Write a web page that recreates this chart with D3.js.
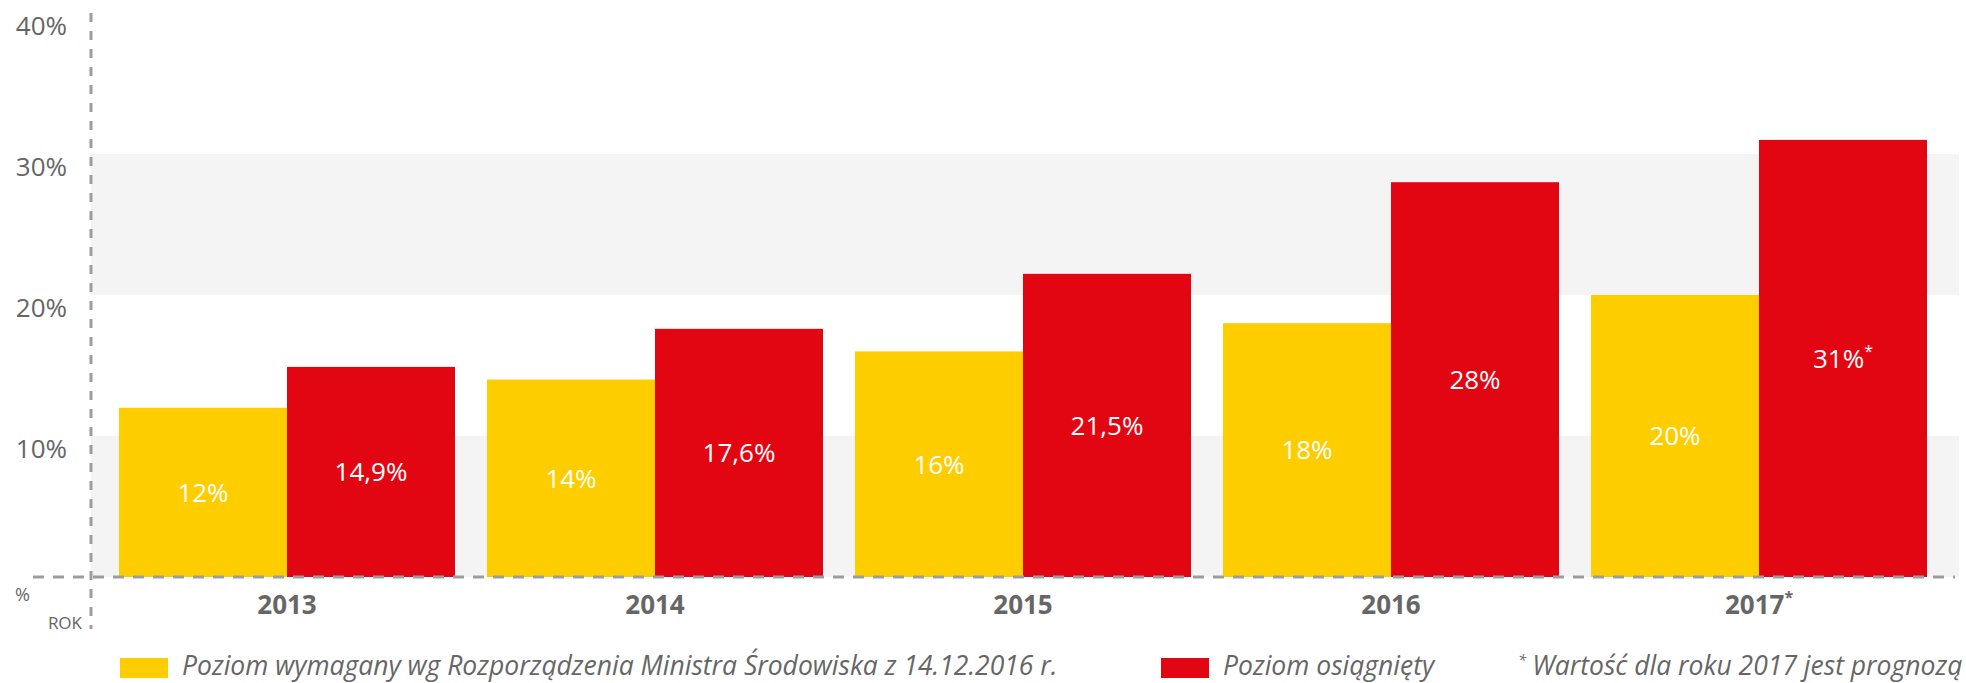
<!DOCTYPE html>
<html>
<head>
<meta charset="utf-8">
<script src="https://cdn.jsdelivr.net/npm/d3@7"></script>
<style>
  body { margin: 0; background: #fff; }
  svg { display: block; font-family: "Open Sans", sans-serif; }
  .tick text { fill: #666; }
</style>
</head>
<body>
<svg id="chart" width="1966" height="683"></svg>
<script>
// data
const years = ["2013", "2014", "2015", "2016", "2017"];
const required = [12, 14, 16, 18, 20];
const achieved = [14.9, 17.6, 21.5, 28, 31];
const requiredLabels = ["12%", "14%", "16%", "18%", "20%"];
const achievedLabels = ["14,9%", "17,6%", "21,5%", "28%", "31%"];
const forecastYears = ["2017"];
const yTicks = [10, 20, 30, 40];
const greyBands = [[0, 10], [20, 30]];
const legendItems = ["Poziom wymagany wg Rozporządzenia Ministra Środowiska z 14.12.2016 r.", "Poziom osiągnięty"];
const footnote = "Wartość dla roku 2017 jest prognozą";

const YELLOW = "#fdcd00", RED = "#e20613", GREY = "#666";

const svg = d3.select("#chart");

const x = d3.scaleBand()
    .domain(years)
    .range([103, 1943])
    .paddingInner(32 / 368)
    .paddingOuter(16 / 368);

const x1 = d3.scaleBand()
    .domain(["req", "ach"])
    .range([0, x.bandwidth()]);

const y = d3.scaleLinear()
    .domain([0, 40])
    .range([577, 13]);

// background bands
svg.append("g").selectAll("rect")
    .data(greyBands)
    .enter()
    .append("rect")
    .attr("x", 91)
    .attr("width", 1959 - 91)
    .attr("y", d => y(d[1]))
    .attr("height", d => y(d[0]) - y(d[1]))
    .attr("fill", "#f4f4f4");

// bars
const groups = svg.append("g").selectAll("g")
    .data(years)
    .enter()
    .append("g")
    .attr("transform", d => "translate(" + x(d) + ",0)");

groups.append("rect")
    .attr("x", x1("req"))
    .attr("width", x1.bandwidth())
    .attr("y", (d, i) => y(required[i]))
    .attr("height", (d, i) => y(0) - y(required[i]))
    .attr("fill", YELLOW);

groups.append("rect")
    .attr("x", x1("ach"))
    .attr("width", x1.bandwidth())
    .attr("y", (d, i) => y(achieved[i]))
    .attr("height", (d, i) => y(0) - y(achieved[i]))
    .attr("fill", RED);

// value labels, centred in the bar
groups.append("text")
    .attr("x", x1("req") + x1.bandwidth() / 2)
    .attr("y", (d, i) => (y(required[i]) + y(0)) / 2)
    .attr("dy", "0.36em")
    .attr("text-anchor", "middle")
    .attr("fill", "#fff")
    .attr("font-size", 26)
    .text((d, i) => requiredLabels[i]);

const achText = groups.append("text")
    .attr("x", x1("ach") + x1.bandwidth() / 2)
    .attr("y", (d, i) => (y(achieved[i]) + y(0)) / 2)
    .attr("dy", "0.36em")
    .attr("text-anchor", "middle")
    .attr("fill", "#fff")
    .attr("font-size", 26)
    .text((d, i) => achievedLabels[i]);

achText.filter(d => forecastYears.includes(d))
    .append("tspan")
    .attr("baseline-shift", "super")
    .attr("font-size", 16)
    .text("*");

// y axis labels
const yAxis = svg.append("g")
    .attr("transform", "translate(91,0)")
    .call(d3.axisLeft(y).tickValues(yTicks).tickSize(0).tickPadding(24).tickFormat(d => d + "%"));
yAxis.select(".domain").remove();
yAxis.selectAll("text")
    .attr("font-size", 26)
    .attr("font-family", "Open Sans")
    .attr("dy", "0.81em");

// x axis labels
const xAxis = svg.append("g")
    .attr("transform", "translate(0,577)")
    .call(d3.axisBottom(x).tickSize(0).tickPadding(19));
xAxis.select(".domain").remove();
xAxis.selectAll("text")
    .attr("font-size", 26)
    .attr("font-weight", 700)
    .attr("font-family", "Open Sans");
xAxis.selectAll(".tick text")
    .filter(d => forecastYears.includes(d))
    .append("tspan")
    .attr("baseline-shift", "super")
    .attr("font-size", 16)
    .text("*");

// dashed axis lines
svg.append("line")
    .attr("x1", 33).attr("x2", 1955)
    .attr("y1", y(0)).attr("y2", y(0))
    .attr("stroke", "#9d9d9d")
    .attr("stroke-width", 3)
    .attr("stroke-dasharray", "11,9");

svg.append("line")
    .attr("x1", 91).attr("x2", 91)
    .attr("y1", 13).attr("y2", 629)
    .attr("stroke", "#9d9d9d")
    .attr("stroke-width", 3)
    .attr("stroke-dasharray", "9,9");

svg.append("text")
    .attr("x", 15).attr("y", 601)
    .attr("font-size", 18)
    .attr("fill", GREY)
    .text("%");

svg.append("text")
    .attr("x", 82).attr("y", 629)
    .attr("text-anchor", "end")
    .attr("font-size", 17)
    .attr("fill", GREY)
    .text("ROK");

// legend
const legendX = [120, 1161];
const legendColors = [YELLOW, RED];
const legend = svg.append("g").selectAll("g")
    .data(legendItems)
    .enter()
    .append("g")
    .attr("transform", (d, i) => "translate(" + legendX[i] + ",658)");

legend.append("rect")
    .attr("width", 48)
    .attr("height", 20)
    .attr("fill", (d, i) => legendColors[i]);

legend.append("text")
    .attr("x", 62)
    .attr("y", 17)
    .attr("font-size", 26.5)
    .attr("font-style", "italic")
    .attr("fill", GREY)
    .text(d => d);

const note = svg.append("text")
    .attr("x", 1518)
    .attr("y", 675)
    .attr("font-size", 26.5)
    .attr("font-style", "italic")
    .attr("fill", GREY);
note.append("tspan")
    .attr("baseline-shift", "super")
    .attr("font-size", 15)
    .text("*");
note.append("tspan")
    .attr("dx", 6)
    .text(footnote);
</script>
</body>
</html>
